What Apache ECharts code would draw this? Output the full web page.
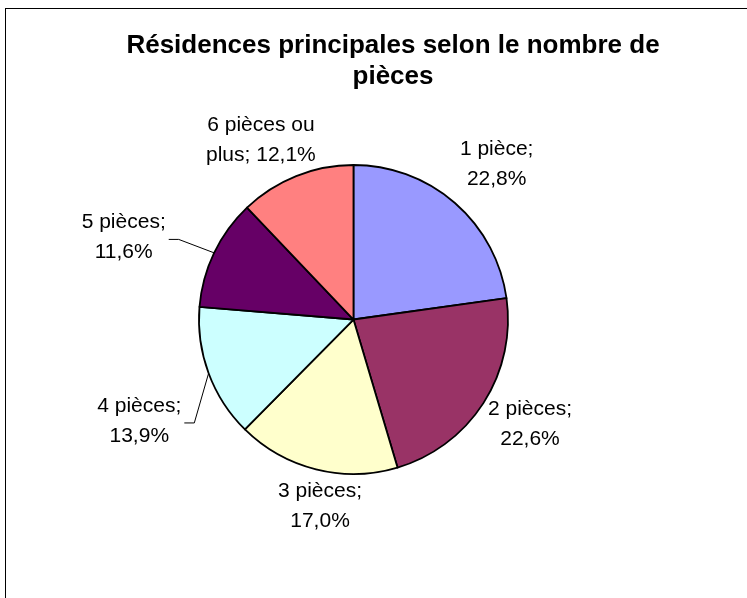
<!DOCTYPE html>
<html>
<head>
<meta charset="utf-8">
<script src="https://cdn.jsdelivr.net/npm/echarts@6/dist/echarts.min.js"></script>
<style>
  body { margin: 0; background: #fff; }
  #frame {
    position: absolute; left: 5px; top: 8px; right: -20px; bottom: -20px;
    border: 1px solid #000;
  }
  #chart { position: absolute; left: 0; top: 0; width: 747px; height: 598px; }
</style>
</head>
<body>
<div id="frame"></div>
<div id="chart"></div>
<script>
// données du graphique
const categories = ["1 pièce", "2 pièces", "3 pièces", "4 pièces", "5 pièces", "6 pièces ou plus"];
const values = [22.8, 22.6, 17.0, 13.9, 11.6, 12.1];
const colors = ["#9999FF", "#993366", "#FFFFCC", "#CCFFFF", "#660066", "#FF8080"];
// étiquettes : texte affiché (retour à la ligne comme dans Excel)
const labelTexts = [
  "1 pièce;\n22,8%",
  "2 pièces;\n22,6%",
  "3 pièces;\n17,0%",
  "4 pièces;\n13,9%",
  "5 pièces;\n11,6%",
  "6 pièces ou\nplus; 12,1%"
];
// placement des étiquettes : distance au centre et décalage d'angle (degrés)
const labelDist = [211, 205, 190, 237, 244, 202];
const labelShift = [1.7, -2.2, -3.9, -5.0, -5.9, -5.5];
const withLeader = [false, false, false, true, true, false];

const RADIUS = 154.5;

const myChart = echarts.init(document.getElementById("chart"), null, { renderer: "canvas" });

const option = {
  backgroundColor: "transparent",
  animation: false,
  title: {
    text: "Résidences principales selon le nombre de\npièces",
    left: 388,
    top: 25,
    textAlign: "center",
    textStyle: {
      fontFamily: "Liberation Sans, Arial, sans-serif",
      fontSize: 26,
      fontWeight: "bold",
      color: "#000",
      lineHeight: 31
    }
  },
  series: [
    {
      type: "pie",
      center: ["47.32%", "53.43%"],
      radius: [0, RADIUS],
      startAngle: 90,
      clockwise: true,
      itemStyle: {
        borderColor: "#000",
        borderWidth: 1.8
      },
      label: {
        show: true,
        position: "outside",
        formatter: function (p) {
          return labelTexts[p.dataIndex];
        },
        fontFamily: "Liberation Sans, Arial, sans-serif",
        fontSize: 21,
        lineHeight: 30,
        color: "#000"
      },
      labelLine: {
        show: true,
        length: 10,
        length2: 10,
        lineStyle: { color: "#000", width: 1 }
      },
      labelLayout: function (params) {
        const i = params.dataIndex;
        const pts = params.labelLinePoints;
        if (!pts) return {};
        const p0 = pts[0], p1 = pts[1];
        let dx = p1[0] - p0[0], dy = p1[1] - p0[1];
        const len = Math.sqrt(dx * dx + dy * dy);
        dx /= len; dy /= len;
        const cx = p0[0] - dx * RADIUS;
        const cy = p0[1] - dy * RADIUS;
        const a = labelShift[i] * Math.PI / 180;
        const rx = dx * Math.cos(a) - dy * Math.sin(a);
        const ry = dx * Math.sin(a) + dy * Math.cos(a);
        const x = cx + rx * labelDist[i];
        const y = cy + ry * labelDist[i];
        const right = x + params.labelRect.width / 2;
        return {
          x: x,
          y: y,
          align: "center",
          verticalAlign: "middle",
          labelLinePoints: [p0, [right + 13, y + 2], [right + 3, y + 2]]
        };
      },
      data: categories.map(function (name, i) {
        return {
          name: name,
          value: values[i],
          itemStyle: { color: colors[i] },
          labelLine: { lineStyle: { opacity: withLeader[i] ? 1 : 0 } }
        };
      })
    }
  ]
};

myChart.setOption(option);
</script>
</body>
</html>
